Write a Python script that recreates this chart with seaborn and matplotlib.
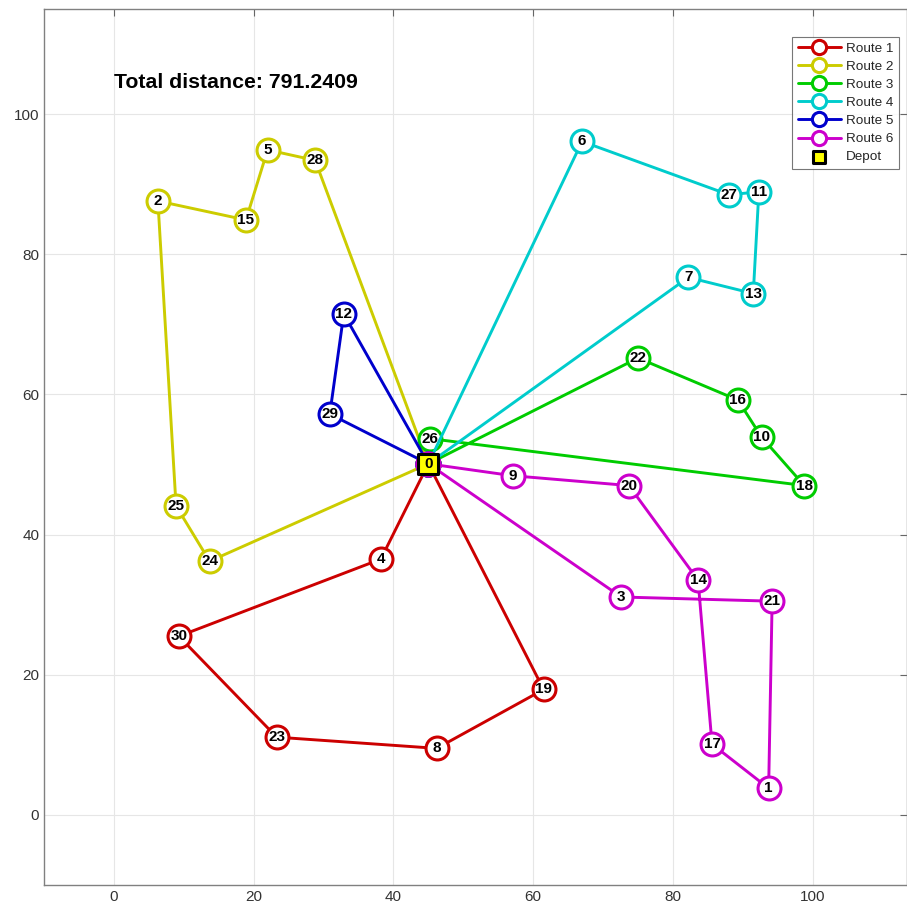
import matplotlib
matplotlib.use("Agg")
import matplotlib.pyplot as plt
import seaborn as sns
import pandas as pd

# node coordinates (index = node id)
node_x = [45.0, 93.7, 6.3, 72.6, 38.2, 22.0, 67.0, 82.2, 46.2, 57.1,
          92.7, 92.3, 32.9, 91.5, 83.6, 18.9, 89.3, 85.6, 98.8, 61.5,
          73.7, 94.2, 75.0, 23.3, 13.7, 8.9, 45.2, 88.0, 28.8, 30.9, 9.3]
node_y = [50.1, 3.8, 87.6, 31.1, 36.5, 94.9, 96.1, 76.7, 9.5, 48.4,
          53.9, 88.9, 71.5, 74.4, 33.5, 84.9, 59.2, 10.1, 47.0, 17.9,
          47.0, 30.5, 65.2, 11.1, 36.2, 44.1, 53.7, 88.5, 93.4, 57.2, 25.5]

route_names = ["Route 1", "Route 2", "Route 3", "Route 4", "Route 5", "Route 6"]
routes = [
    [0, 4, 30, 23, 8, 19, 0],
    [0, 28, 5, 15, 2, 25, 24, 0],
    [0, 22, 16, 10, 18, 26, 0],
    [0, 6, 27, 11, 13, 7, 0],
    [0, 29, 12, 0],
    [0, 9, 20, 14, 17, 1, 21, 3, 0],
]
route_colors = ["#CC0000", "#CCCC00", "#00CC00", "#00CCCC", "#0000CC", "#CC00CC"]
total_distance = "Total distance: 791.2409"
x_ticks = [0, 20, 40, 60, 80, 100]
y_ticks = [0, 20, 40, 60, 80, 100]

sns.set_style("white")
plt.rcParams["font.family"] = ["Liberation Sans", "DejaVu Sans"]

fig = plt.figure(figsize=(9.07, 9.08), dpi=100)
ax = fig.add_axes([0.0485, 0.0253, 0.9515, 0.9648])

for name, r, c in zip(route_names, routes, route_colors):
    df = pd.DataFrame({"x": [node_x[i] for i in r], "y": [node_y[i] for i in r]})
    sns.lineplot(data=df, x="x", y="y", sort=False, estimator=None, ax=ax,
                 color=c, linewidth=2.1, marker="o", markersize=16.5,
                 markerfacecolor="white", markeredgecolor=c,
                 markeredgewidth=2.2, label=name, zorder=3)

dep = pd.DataFrame({"x": [node_x[0]], "y": [node_y[0]]})
sns.scatterplot(data=dep, x="x", y="y", ax=ax, marker="s", s=200,
                color="yellow", edgecolor="black", linewidth=2.2,
                label="Depot", zorder=5)

for i, (xx, yy) in enumerate(zip(node_x, node_y)):
    ax.text(xx, yy, str(i), ha="center", va="center", fontsize=11,
            fontweight="bold", color="black", zorder=6)

ax.text(0, 104.5, total_distance, fontsize=15.3, fontweight="bold",
        ha="left", va="center", color="black")

ax.set_xlim(-10, 113.5)
ax.set_ylim(-10, 115)
ax.set_xticks(x_ticks)
ax.set_yticks(y_ticks)
ax.set_xlabel("")
ax.set_ylabel("")
ax.grid(True, color="#e6e6e6", linewidth=0.8)
ax.set_axisbelow(True)
ax.tick_params(direction="in", length=5, color="#666666", labelsize=11,
               labelcolor="#333333", top=True, right=True,
               labeltop=False, labelright=False)
for s in ax.spines.values():
    s.set_color("#808080")
    s.set_linewidth(1.0)

leg = ax.legend(loc="upper right", bbox_to_anchor=(0.9907, 0.968), fontsize=9.7,
                frameon=True, fancybox=False, edgecolor="#555555",
                handlelength=3.2, borderpad=0.4, labelspacing=0.42,
                handletextpad=0.4, markerscale=0.62, borderaxespad=0)
leg.get_frame().set_linewidth(0.8)

fig.savefig("out.png", dpi=100)
